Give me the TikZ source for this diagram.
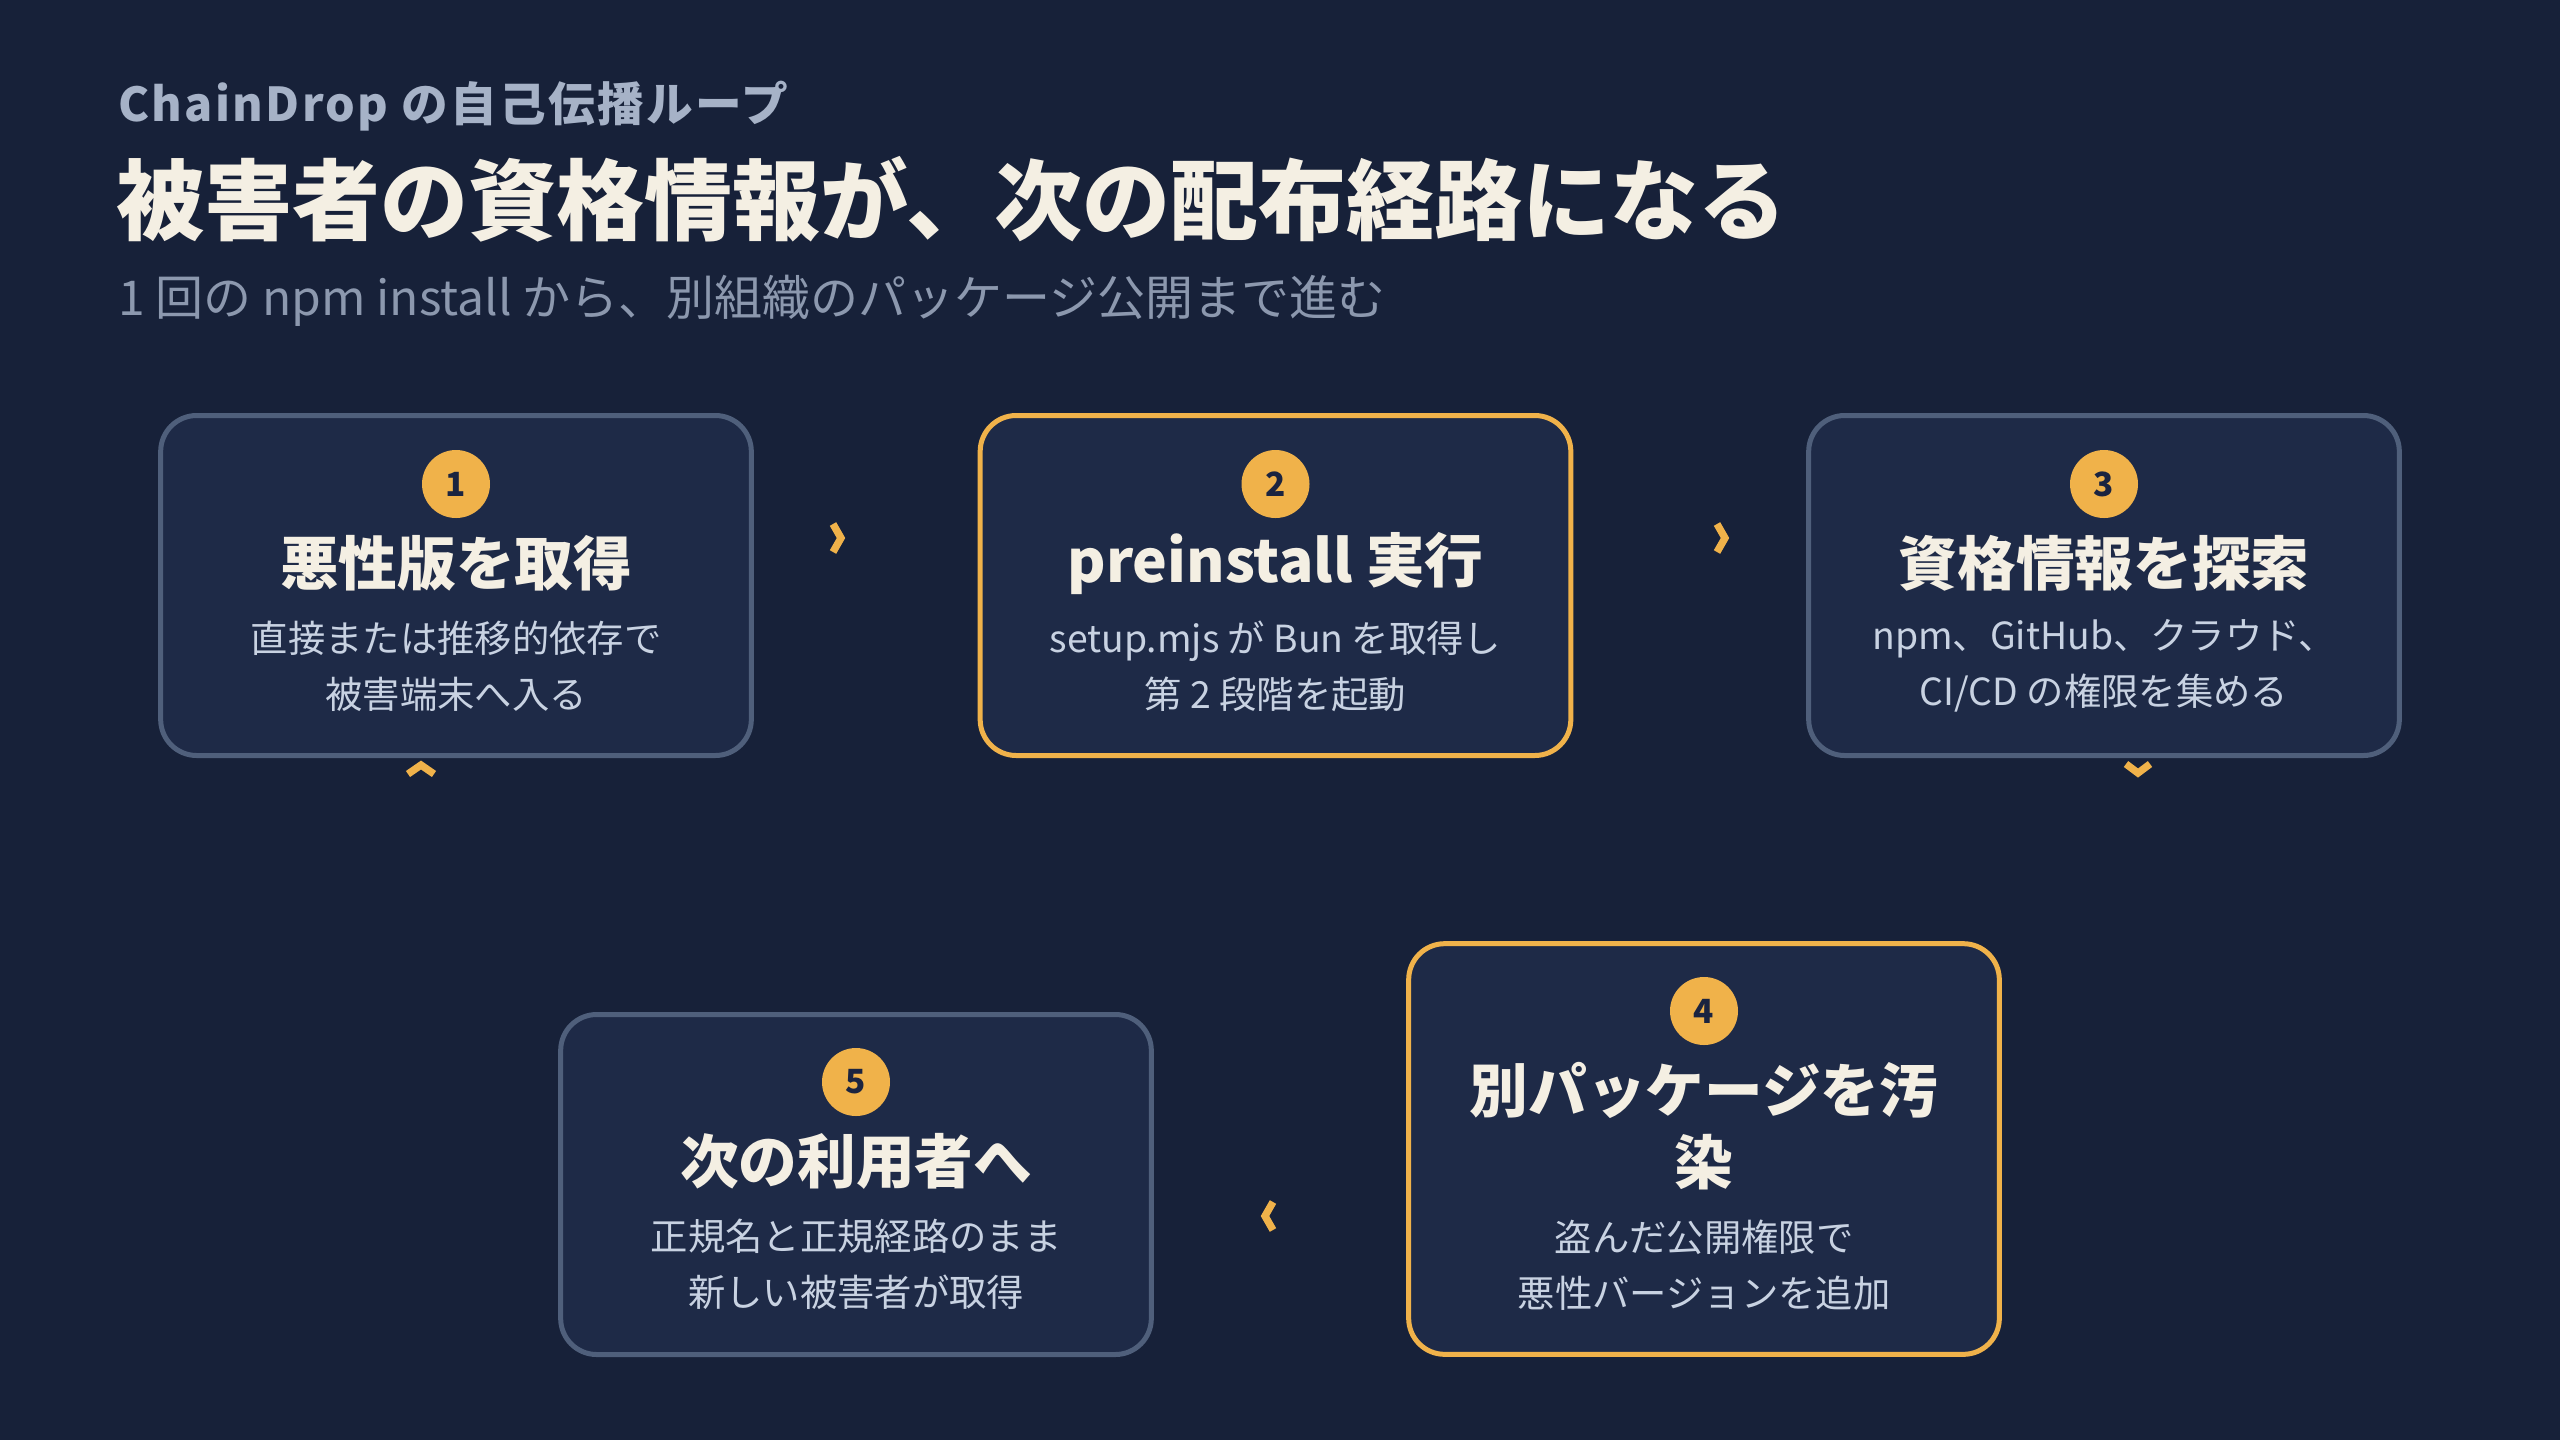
\documentclass[tikz,border=0pt]{standalone}
\usepackage{fontspec}
\setmainfont{Noto Sans CJK JP}

\definecolor{bgnavy}{RGB}{23,33,57}
\definecolor{cardfill}{RGB}{30,42,71}
\definecolor{cardline}{RGB}{79,95,123}
\definecolor{amber}{RGB}{240,178,74}
\definecolor{cream}{RGB}{244,239,227}
\definecolor{descink}{RGB}{200,210,226}
\definecolor{kickink}{RGB}{166,178,199}
\definecolor{subink}{RGB}{140,152,174}
\definecolor{badgeink}{RGB}{27,36,64}

\begin{document}
\begin{tikzpicture}[x=0.75pt,y=0.75pt,yscale=-1,xscale=1,
  card/.style={draw=cardline, fill=cardfill, line width=3.75pt, rounded corners=27pt,
    minimum width=443pt, minimum height=255pt, inner sep=0pt},
  hotcard/.style={card, draw=amber},
  badge/.style={circle, fill=amber, minimum size=51pt, inner sep=0pt, text=badgeink,
    font=\fontsize{25}{25}\selectfont\bfseries},
  cardtitle/.style={text=cream, font=\fontsize{44}{54}\selectfont\bfseries, align=center, inner sep=0pt},
  carddesc/.style={text=descink, font=\fontsize{28}{42}\selectfont, align=center, inner sep=0pt},
  chev/.style={draw=amber, line width=5.5pt, line join=miter}]
%set diagram left start at 0, and has height of 1440
\fill [bgnavy] (0,0) rectangle (2560,1440);
\useasboundingbox (0,0) rectangle (2560,1440);

% Text Node
\node [anchor=west, inner sep=0pt, text=kickink, font=\fontsize{35}{35}\selectfont\bfseries\addfontfeature{LetterSpace=5}] (kicker) at (118,106) {ChainDrop の自己伝播ループ};
% Text Node
\node [anchor=west, inner sep=0pt, text=cream, font=\fontsize{66}{66}\selectfont\bfseries] (headline) at (116,199) {被害者の資格情報が、次の配布経路になる};
% Text Node
\node [anchor=west, inner sep=0pt, text=subink, font=\fontsize{36}{36}\selectfont] (subline) at (118,301) {1 回の npm install から、別組織のパッケージ公開まで進む};

%Chevrons
\coordinate (c12) at (837,538);
\coordinate (c23) at (1721,538);
\coordinate (c34) at (2138,769);
\coordinate (c45) at (1269,1216);
\coordinate (c51) at (421,769);
\draw [chev] (c12) ++(-4,-14) -- ++(8,14) -- ++(-8,14);
\draw [chev] (c23) ++(-4,-14) -- ++(8,14) -- ++(-8,14);
\draw [chev] (c34) ++(-12,-5) -- ++(12,9) -- ++(12,-9);
\draw [chev] (c45) ++(4,-14) -- ++(-8,14) -- ++(8,14);
\draw [chev] (c51) ++(-13,5) -- ++(13,-9) -- ++(13,9);

%Shape: Rounded Rect
\node [card] (s1) at (456,585.5) {};
\node [hotcard] (s2) at (1275.5,585.5) {};
\node [card] (s3) at (2104,585.5) {};
\node [hotcard, minimum height=308pt] (s4) at (1704,1149) {};
\node [card] (s5) at (856,1184.5) {};

%Shape: Circle
\node [badge] (b1) at (456,484) {1};
\node [badge] (b2) at (1275.5,484) {2};
\node [badge] (b3) at (2104,484) {3};
\node [badge] (b4) at (1704,1011) {4};
\node [badge] (b5) at (856,1082) {5};

% Text Node
\node [cardtitle] (t1) at (456,563) {悪性版を取得};
\node [carddesc] (d1) at (456,666) {直接または推移的依存で\\被害端末へ入る};
% Text Node
\node [cardtitle] (t2) at (1275.5,563) {preinstall 実行};
\node [carddesc] (d2) at (1275.5,666) {setup.mjs が Bun を取得し\\第 2 段階を起動};
% Text Node
\node [cardtitle] (t3) at (2104,563) {資格情報を探索};
\node [carddesc] (d3) at (2104,666) {npm、GitHub、クラウド、\\CI/CD の権限を集める};
% Text Node
\node [cardtitle] (t4) at (1704,1126) {別パッケージを汚\\染};
\node [carddesc] (d4) at (1704,1265.5) {盗んだ公開権限で\\悪性バージョンを追加};
% Text Node
\node [cardtitle] (t5) at (856,1161) {次の利用者へ};
\node [carddesc] (d5) at (856,1264.5) {正規名と正規経路のまま\\新しい被害者が取得};

\end{tikzpicture}
\end{document}
